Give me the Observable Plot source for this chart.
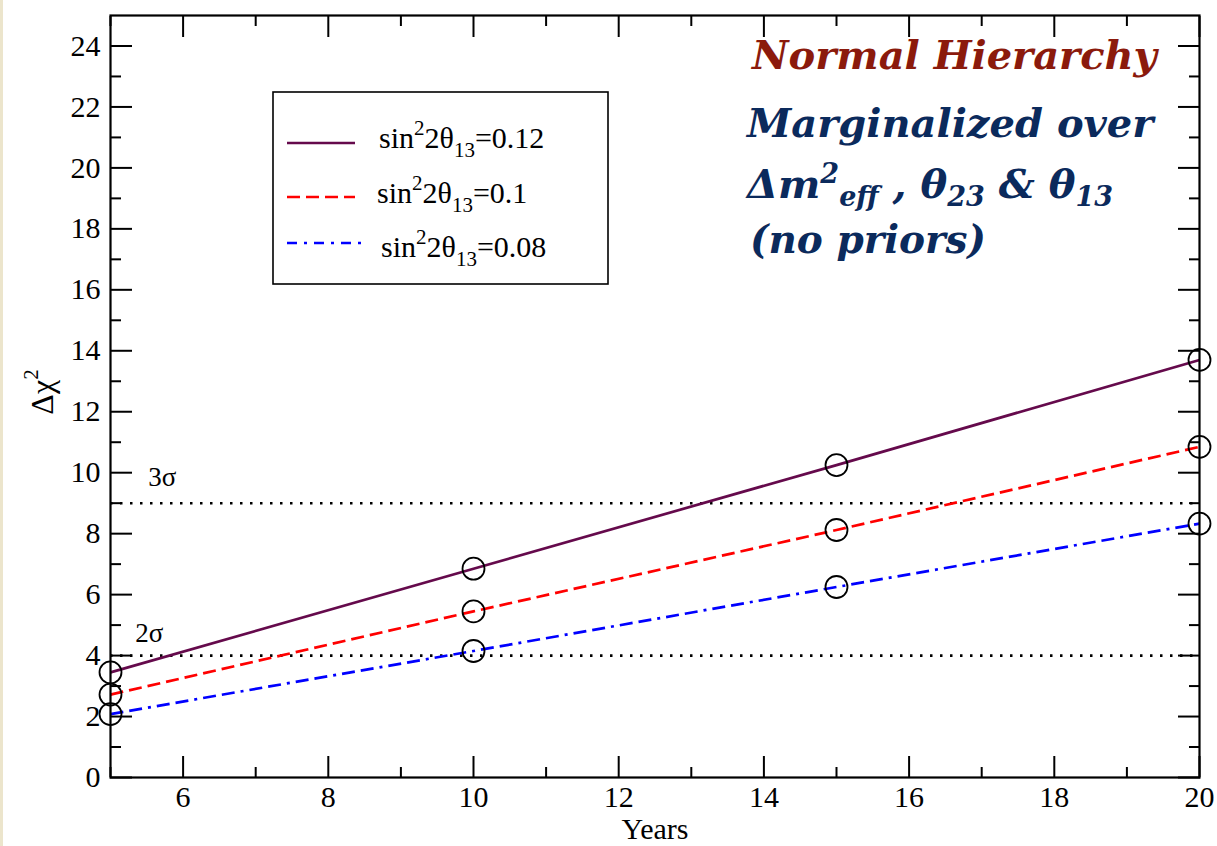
<!DOCTYPE html>
<html>
<head>
<meta charset="utf-8">
<script src="https://cdn.jsdelivr.net/npm/d3@7"></script>
<script src="https://cdn.jsdelivr.net/npm/@observablehq/plot@0.6"></script>
<style>
  html, body { margin: 0; padding: 0; background: #ffffff; }
  body { position: relative; width: 1217px; height: 846px; overflow: hidden; }
  #edge { position: absolute; left: 0; top: 0; width: 3px; height: 846px; background: #ece5cc; }
  #chart { position: absolute; left: 0; top: 0; }
</style>
</head>
<body>
<div id="edge"></div>
<div id="chart"></div>
<script>
// Exposure in years and the Δχ² reached for each value of sin²2θ13
const years = [5, 10, 15, 20];
const chi2_012 = [3.45, 6.85, 10.25, 13.7];
const chi2_010 = [2.72, 5.45, 8.12, 10.85];
const chi2_008 = [2.08, 4.15, 6.25, 8.33];

const seriesValues = ["0.12", "0.1", "0.08"];
const seriesColors = ["#650a4c", "#ff0000", "#0000ff"];
const seriesDashes = [null, "13,6", "13,6,13,6,3,6"];

// Significance thresholds
const sigmaLevels = [4, 9];
const sigmaLabels = ["2σ", "3σ"];
const sigmaLabelX = [5.34, 5.52];
const sigmaLabelY = [4.45, 9.55];

// Axis ticks
const xMajor = [6, 8, 10, 12, 14, 16, 18, 20];
const xMinor = [5, 7, 9, 11, 13, 15, 17, 19];
const yMajor = [0, 2, 4, 6, 8, 10, 12, 14, 16, 18, 20, 22, 24];
const yMinor = [1, 3, 5, 7, 9, 11, 13, 15, 17, 19, 21, 23];

const allSeries = [chi2_012, chi2_010, chi2_008];
const rows = allSeries.flatMap((vals, s) =>
  years.map((yr, i) => ({series: s, year: yr, chi2: vals[i]})));
const sigmaRows = sigmaLevels.map((v, i) => ({level: v, label: sigmaLabels[i], lx: sigmaLabelX[i], ly: sigmaLabelY[i]}));

const serif = "'Liberation Serif', 'Times New Roman', serif";
const tickStyle = {stroke: "black", strokeWidth: 2, fill: "none", label: null};

const lineMarks = allSeries.map((vals, s) =>
  Plot.line(rows.filter(d => d.series === s), {
    x: "year", y: "chi2",
    stroke: seriesColors[s],
    strokeWidth: 2.7,
    strokeDasharray: seriesDashes[s] ?? undefined,
    strokeLinecap: "butt"
  }));

const svg = Plot.plot({
  width: 1217,
  height: 846,
  marginLeft: 110,
  marginRight: 18,
  marginTop: 15,
  marginBottom: 69,
  style: {fontFamily: serif, fontSize: "29px", color: "black", background: "transparent"},
  x: {domain: [5, 20]},
  y: {domain: [0, 25]},
  marks: [
    Plot.ruleY(sigmaRows, {y: "level", stroke: "black", strokeWidth: 2.6, strokeDasharray: "2.5,7.5"}),
    ...lineMarks,
    Plot.dot(rows, {x: "year", y: "chi2", r: 11, stroke: "black", strokeWidth: 1.8, fill: "none"}),
    Plot.text(sigmaRows, {x: "lx", y: "ly", text: "label", textAnchor: "start", lineAnchor: "bottom", fontSize: 27, fill: "black"}),

    // inward ticks on all four sides
    Plot.axisX(xMajor, {anchor: "bottom", tickSize: -21, ...tickStyle}),
    Plot.axisX(xMinor, {anchor: "bottom", tickSize: -10, ...tickStyle}),
    Plot.axisX(xMajor, {anchor: "top", tickSize: -21, ...tickStyle}),
    Plot.axisX(xMinor, {anchor: "top", tickSize: -10, ...tickStyle}),
    Plot.axisY(yMajor, {anchor: "left", tickSize: -22, ...tickStyle}),
    Plot.axisY(yMinor, {anchor: "left", tickSize: -11, ...tickStyle}),
    Plot.axisY(yMajor, {anchor: "right", tickSize: -22, ...tickStyle}),
    Plot.axisY(yMinor, {anchor: "right", tickSize: -11, ...tickStyle}),

    // tick labels
    Plot.axisX(xMajor, {anchor: "bottom", tickSize: 0, tickPadding: 8, stroke: "none", fill: "black", label: null, fontSize: 30}),
    Plot.axisY(yMajor, {anchor: "left", tickSize: 0, tickPadding: 10, stroke: "none", fill: "black", label: null, fontSize: 30}),

    Plot.text(["Years"], {frameAnchor: "bottom", dy: 61, text: d => d, fontSize: 30, lineAnchor: "bottom", fill: "black"}),
    Plot.frame({stroke: "black", strokeWidth: 2.2})
  ]
});

document.getElementById("chart").appendChild(svg);

const root = d3.select(svg);

// y-axis title Δχ²
const yTitle = root.append("text")
  .attr("transform", "translate(53,392) rotate(-90)")
  .attr("text-anchor", "middle")
  .attr("font-family", serif)
  .attr("font-size", 32)
  .attr("fill", "black");
yTitle.append("tspan").text("Δχ");
yTitle.append("tspan").attr("font-size", 21).attr("dy", -15).text("2");

// legend
const legend = root.append("g")
  .attr("font-family", serif)
  .attr("fill", "black")
  .attr("text-anchor", "start");
legend.append("rect")
  .attr("x", 273).attr("y", 92).attr("width", 335).attr("height", 192)
  .attr("fill", "white").attr("stroke", "black").attr("stroke-width", 1.6);

const legendLineY = [143, 197, 243];
const legendTextY = [148, 203, 257];
const legendTextX = [379, 377, 381];
seriesValues.forEach((v, i) => {
  legend.append("line")
    .attr("x1", 287).attr("x2", i === 2 ? 361 : 355)
    .attr("y1", legendLineY[i]).attr("y2", legendLineY[i])
    .attr("stroke", seriesColors[i]).attr("stroke-width", 2.6)
    .attr("stroke-dasharray", i === 2 ? "10,7,3,7" : seriesDashes[i]);
  const t = legend.append("text")
    .attr("x", legendTextX[i]).attr("y", legendTextY[i])
    .attr("font-size", 30);
  t.append("tspan").text("sin");
  t.append("tspan").attr("font-size", 21).attr("dy", -13).text("2");
  t.append("tspan").attr("dy", 13).text("2θ");
  t.append("tspan").attr("font-size", 21).attr("dy", 9).text("13");
  t.append("tspan").attr("dy", -9).text("=" + v);
});

// annotation block
const note = root.append("g")
  .attr("font-family", "'DejaVu Serif', serif")
  .attr("font-weight", "bold")
  .attr("font-style", "italic")
  .attr("text-anchor", "start");
note.append("text").attr("x", 752).attr("y", 69).attr("font-size", 40)
  .attr("fill", "#8b1a0c").text("Normal Hierarchy");
const navy = "#0b2a5c";
note.append("text").attr("x", 747).attr("y", 137).attr("font-size", 40)
  .attr("fill", navy).text("Marginalized over");
const l3 = note.append("text").attr("x", 747).attr("y", 198).attr("font-size", 40).attr("fill", navy);
l3.append("tspan").text("Δm");
l3.append("tspan").attr("font-size", 27).attr("dy", -15).text("2");
l3.append("tspan").attr("font-size", 27).attr("dy", 23).text("eff");
l3.append("tspan").attr("dy", -8).text(" , θ");
l3.append("tspan").attr("font-size", 27).attr("dy", 8).text("23");
l3.append("tspan").attr("dy", -8).text(" & θ");
l3.append("tspan").attr("font-size", 27).attr("dy", 8).text("13");
note.append("text").attr("x", 750).attr("y", 253).attr("font-size", 39)
  .attr("fill", navy).text("(no priors)");
</script>
</body>
</html>
